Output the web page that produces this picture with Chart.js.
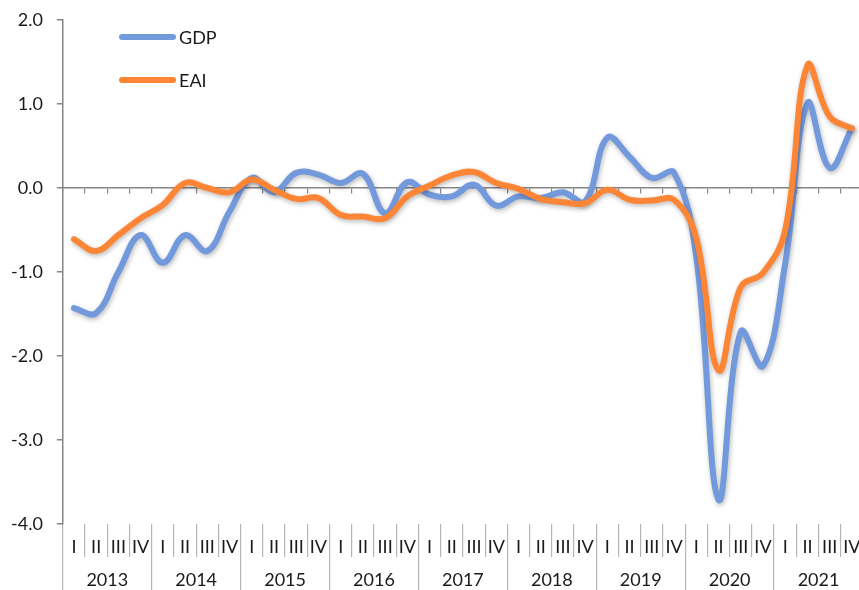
<!DOCTYPE html>
<html>
<head>
<meta charset="utf-8">
<script src="https://cdn.jsdelivr.net/npm/chart.js@4/dist/chart.umd.min.js"></script>
<style>
  html, body { margin: 0; padding: 0; background: #fff; overflow: hidden; }
  #wrap { width: 863px; height: 590px; }
</style>
</head>
<body>
<div id="wrap"><canvas id="chart" width="863" height="590"></canvas></div>
<script>
const years = ['2013', '2014', '2015', '2016', '2017', '2018', '2019', '2020', '2021'];
const quarters = ['I', 'II', 'III', 'IV'];
const quarterLabels = years.flatMap(() => quarters);

const gdp = [-1.43, -1.49, -1.0, -0.56, -0.89, -0.56, -0.75, -0.28, 0.12, -0.05,
  0.18, 0.16, 0.06, 0.17, -0.30, 0.07, -0.08, -0.10, 0.04, -0.21,
  -0.10, -0.12, -0.05, -0.16, 0.60, 0.37, 0.12, 0.18, -0.82, -3.71,
  -1.71, -2.12, -0.90, 1.01, 0.24, 0.71];
const eai = [-0.61, -0.75, -0.56, -0.36, -0.20, 0.06, 0.0, -0.05, 0.10, -0.02,
  -0.13, -0.12, -0.32, -0.34, -0.36, -0.10, 0.03, 0.15, 0.19, 0.06,
  -0.01, -0.13, -0.17, -0.18, -0.02, -0.14, -0.15, -0.14, -0.60, -2.17,
  -1.18, -1.01, -0.50, 1.46, 0.85, 0.71];

const axisGrey = '#868686';
const sepGrey = '#b5b5b5';
const textColor = '#1a1a1a';
const font = { family: 'Lato', size: 18 };

// soft shadow under the thick lines
const lineShadow = {
  id: 'lineShadow',
  beforeDatasetDraw(chart) {
    const ctx = chart.ctx;
    ctx.save();
    ctx.shadowColor = 'rgba(0,0,0,0.28)';
    ctx.shadowBlur = 5;
    ctx.shadowOffsetX = 1;
    ctx.shadowOffsetY = 2;
  },
  afterDatasetDraw(chart) {
    chart.ctx.restore();
  }
};

// legend inside the plot, top left
const innerLegend = {
  id: 'innerLegend',
  afterDraw(chart) {
    const ctx = chart.ctx;
    const items = [chart.data.datasets[0], chart.data.datasets[1]];
    ctx.save();
    items.forEach((ds, i) => {
      const y = 37 + i * 43;
      ctx.strokeStyle = ds.borderColor;
      ctx.lineWidth = 6;
      ctx.lineCap = 'round';
      ctx.beginPath();
      ctx.moveTo(122, y);
      ctx.lineTo(173, y);
      ctx.stroke();
      ctx.fillStyle = textColor;
      ctx.font = '18px Lato';
      ctx.textBaseline = 'middle';
      ctx.fillText(ds.label, 179, y + 1);
    });
    ctx.restore();
  }
};

new Chart(document.getElementById('chart'), {
  type: 'line',
  data: {
    labels: quarterLabels,
    datasets: [
      {
        label: 'GDP',
        data: gdp,
        borderColor: '#7399dd',
        borderWidth: 6,
        tension: 0.4,
        pointRadius: 0,
        borderCapStyle: 'round',
        order: 1
      },
      {
        label: 'EAI',
        data: eai,
        borderColor: '#fd8636',
        borderWidth: 6,
        tension: 0.4,
        pointRadius: 0,
        borderCapStyle: 'round',
        order: 0
      }
    ]
  },
  options: {
    responsive: false,
    animation: false,
    layout: { padding: { left: -3, top: 20, right: 0, bottom: 0 } },
    plugins: { legend: { display: false }, tooltip: { enabled: false } },
    scales: {
      y: {
        min: -4,
        max: 2,
        ticks: {
          stepSize: 1,
          font: font,
          color: textColor,
          padding: 14,
          callback: v => v.toFixed(1)
        },
        grid: { drawOnChartArea: false, tickLength: 6, color: axisGrey, lineWidth: 1.5 },
        border: { color: axisGrey, width: 1.5 },
        afterFit: s => { s.paddingTop = 0; s.paddingBottom = 0; }
      },
      x: {
        position: { y: 0 },
        offset: true,
        ticks: { display: false },
        grid: { drawOnChartArea: false, offset: true, tickLength: 5, color: axisGrey, lineWidth: 1.2 },
        border: { color: axisGrey, width: 1.5 }
      },
      xq: {
        type: 'category',
        position: 'bottom',
        labels: quarterLabels,
        offset: true,
        ticks: { font: font, color: textColor, padding: -21, autoSkip: false, maxRotation: 0 },
        grid: { drawOnChartArea: false, offset: true, tickLength: 33, color: sepGrey, lineWidth: 1.2 },
        border: { display: false },
        afterFit: s => { s.height = 33; }
      },
      xy: {
        type: 'category',
        position: 'bottom',
        labels: years,
        offset: true,
        ticks: { font: font, color: textColor, padding: -21, autoSkip: false, maxRotation: 0 },
        grid: { drawOnChartArea: false, offset: true, tickLength: 33, color: sepGrey, lineWidth: 1.2 },
        border: { display: false },
        afterFit: s => { s.height = 33; }
      }
    }
  },
  plugins: [lineShadow, innerLegend]
});
</script>
</body>
</html>
